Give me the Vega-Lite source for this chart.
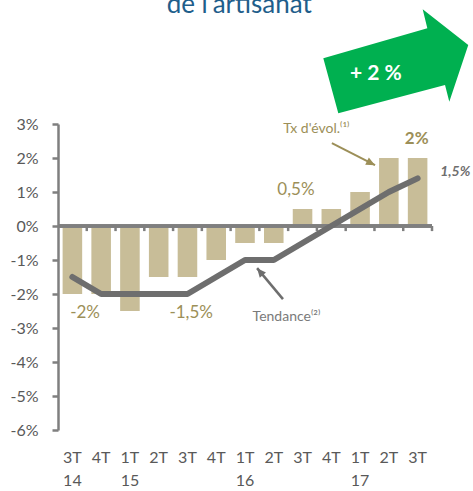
{
  "$schema": "https://vega.github.io/schema/vega-lite/v6.json",
  "width": 374,
  "height": 306,
  "autosize": {"type": "none"},
  "padding": {"left": 58, "top": 124, "right": 41, "bottom": 61},
  "config": {"font": "Lato", "view": {"stroke": null}},
  "layer": [
    {
      "data": {"values": [
        {"q": "3T14", "evol": -2, "tend": -1.5, "yr": "14"},
        {"q": "4T14", "evol": -2, "tend": -2, "yr": ""},
        {"q": "1T15", "evol": -2.5, "tend": -2, "yr": "15"},
        {"q": "2T15", "evol": -1.5, "tend": -2, "yr": ""},
        {"q": "3T15", "evol": -1.5, "tend": -2, "yr": ""},
        {"q": "4T15", "evol": -1, "tend": -1.5, "yr": ""},
        {"q": "1T16", "evol": -0.5, "tend": -1, "yr": "16"},
        {"q": "2T16", "evol": -0.5, "tend": -1, "yr": ""},
        {"q": "3T16", "evol": 0.5, "tend": -0.5, "yr": ""},
        {"q": "4T16", "evol": 0.5, "tend": 0, "yr": ""},
        {"q": "1T17", "evol": 1, "tend": 0.5, "yr": "17"},
        {"q": "2T17", "evol": 2, "tend": 1, "yr": ""},
        {"q": "3T17", "evol": 2, "tend": 1.4, "yr": ""}
      ]},
      "layer": [
        {
          "mark": {"type": "bar", "width": {"band": 0.68}, "color": "#c8bd98"},
          "encoding": {
            "x": {
              "field": "q", "type": "nominal", "sort": null,
              "scale": {"paddingInner": 0, "paddingOuter": 0},
              "axis": {
                "title": null, "labelAngle": 0, "domain": false, "ticks": false,
                "labelPadding": 19, "labelFontSize": 16, "labelColor": "#595959",
                "labelExpr": "slice(datum.value, 0, 2)"
              }
            },
            "y": {
              "field": "evol", "type": "quantitative",
              "scale": {"domain": [-6, 3], "nice": false},
              "axis": {
                "title": null, "values": [-6, -5, -4, -3, -2, -1, 0, 1, 2, 3],
                "labelExpr": "datum.value + '%'", "grid": false, "labelOverlap": false,
                "domainColor": "#7f7f7f", "domainWidth": 2.5,
                "tickColor": "#7f7f7f", "tickWidth": 2.5, "tickSize": 6,
                "labelFontSize": 16, "labelColor": "#595959", "labelPadding": 14
              }
            }
          }
        },
        {
          "mark": {"type": "rule", "color": "#7f7f7f", "strokeWidth": 2.5},
          "encoding": {
            "y": {
              "datum": 0, "type": "quantitative",
              "axis": {
                "title": null, "values": [-6, -5, -4, -3, -2, -1, 0, 1, 2, 3],
                "labelExpr": "datum.value + '%'", "grid": false, "labelOverlap": false,
                "domainColor": "#7f7f7f", "domainWidth": 2.5,
                "tickColor": "#7f7f7f", "tickWidth": 2.5, "tickSize": 6,
                "labelFontSize": 16, "labelColor": "#595959", "labelPadding": 14
              }
            }
          }
        },
        {
          "mark": {"type": "rule", "color": "#7f7f7f", "strokeWidth": 2.5},
          "encoding": {
            "x": {"field": "q", "type": "nominal", "sort": null, "bandPosition": 1},
            "y": {
              "datum": 0, "type": "quantitative",
              "axis": {
                "title": null, "values": [-6, -5, -4, -3, -2, -1, 0, 1, 2, 3],
                "labelExpr": "datum.value + '%'", "grid": false, "labelOverlap": false,
                "domainColor": "#7f7f7f", "domainWidth": 2.5,
                "tickColor": "#7f7f7f", "tickWidth": 2.5, "tickSize": 6,
                "labelFontSize": 16, "labelColor": "#595959", "labelPadding": 14
              }
            },
            "y2": {"datum": -0.15}
          }
        },
        {
          "mark": {"type": "line", "color": "#6e6e6e", "strokeWidth": 6, "strokeCap": "round", "strokeJoin": "round"},
          "encoding": {
            "x": {"field": "q", "type": "nominal", "sort": null},
            "y": {
              "field": "tend", "type": "quantitative",
              "axis": {
                "title": null, "values": [-6, -5, -4, -3, -2, -1, 0, 1, 2, 3],
                "labelExpr": "datum.value + '%'", "grid": false, "labelOverlap": false,
                "domainColor": "#7f7f7f", "domainWidth": 2.5,
                "tickColor": "#7f7f7f", "tickWidth": 2.5, "tickSize": 6,
                "labelFontSize": 16, "labelColor": "#595959", "labelPadding": 14
              }
            }
          }
        },
        {
          "mark": {"type": "text", "fontSize": 16, "color": "#595959"},
          "encoding": {
            "x": {"field": "q", "type": "nominal", "sort": null},
            "y": {
              "datum": -7.5, "type": "quantitative",
              "axis": {
                "title": null, "values": [-6, -5, -4, -3, -2, -1, 0, 1, 2, 3],
                "labelExpr": "datum.value + '%'", "grid": false, "labelOverlap": false,
                "domainColor": "#7f7f7f", "domainWidth": 2.5,
                "tickColor": "#7f7f7f", "tickWidth": 2.5, "tickSize": 6,
                "labelFontSize": 16, "labelColor": "#595959", "labelPadding": 14
              }
            },
            "text": {"field": "yr"}
          }
        }
      ]
    },
    {
      "data": {"values": [{"ax": 11.714, "ay": 4.824}]},
      "mark": {"type": "point", "shape": "M-0.956,-0.049L0.431,-0.449L0.369,-0.703L0.977,-0.227L0.724,0.529L0.667,0.307L-0.756,0.684Z", "size": 22500, "filled": true, "fill": "#00b050", "opacity": 1, "strokeWidth": 0},
      "encoding": {
        "x": {"field": "ax", "type": "quantitative", "scale": {"domain": [0, 13], "nice": false, "zero": false}, "axis": null},
        "y": {"field": "ay", "type": "quantitative", "axis": null}
      }
    },
    {
      "data": {"values": [{"ax": 11.05, "ay": 4.47, "t": "+ 2 %"}]},
      "mark": {"type": "text", "color": "#ffffff", "fontWeight": "bold", "fontSize": 21},
      "encoding": {
        "x": {"field": "ax", "type": "quantitative", "scale": {"domain": [0, 13], "nice": false, "zero": false}, "axis": null},
        "y": {"field": "ay", "type": "quantitative", "axis": null},
        "text": {"field": "t"}
      }
    },
    {
      "data": {"values": [{"ax": 6.3, "ay": 6.265, "t": "de l'artisanat"}]},
      "mark": {"type": "text", "color": "#1f5e8b", "fontSize": 26, "baseline": "alphabetic"},
      "encoding": {
        "x": {"field": "ax", "type": "quantitative", "scale": {"domain": [0, 13], "nice": false, "zero": false}, "axis": null},
        "y": {"field": "ay", "type": "quantitative", "axis": null},
        "text": {"field": "t"}
      }
    },
    {
      "data": {"values": [
        {"ax": 0.94, "ay": -2.56, "t": "-2%"},
        {"ax": 4.63, "ay": -2.56, "t": "-1,5%"},
        {"ax": 8.27, "ay": 1.06, "t": "0,5%"}
      ]},
      "mark": {"type": "text", "color": "#9c8f58", "fontSize": 17},
      "encoding": {
        "x": {"field": "ax", "type": "quantitative", "scale": {"domain": [0, 13], "nice": false, "zero": false}, "axis": null},
        "y": {"field": "ay", "type": "quantitative", "axis": null},
        "text": {"field": "t"}
      }
    },
    {
      "data": {"values": [{"ax": 12.47, "ay": 2.56, "t": "2%"}]},
      "mark": {"type": "text", "color": "#9c8f58", "fontSize": 17, "fontWeight": "bold"},
      "encoding": {
        "x": {"field": "ax", "type": "quantitative", "scale": {"domain": [0, 13], "nice": false, "zero": false}, "axis": null},
        "y": {"field": "ay", "type": "quantitative", "axis": null},
        "text": {"field": "t"}
      }
    },
    {
      "data": {"values": [{"ax": 8.98, "ay": 2.85, "t": "Tx d'évol.⁽¹⁾"}]},
      "mark": {"type": "text", "color": "#9c8f58", "fontSize": 14},
      "encoding": {
        "x": {"field": "ax", "type": "quantitative", "scale": {"domain": [0, 13], "nice": false, "zero": false}, "axis": null},
        "y": {"field": "ay", "type": "quantitative", "axis": null},
        "text": {"field": "t"}
      }
    },
    {
      "data": {"values": [{"ax": 13.81, "ay": 1.58, "t": "1,5%"}]},
      "mark": {"type": "text", "color": "#6e6e6e", "fontSize": 14, "fontWeight": "bold", "fontStyle": "italic"},
      "encoding": {
        "x": {"field": "ax", "type": "quantitative", "scale": {"domain": [0, 13], "nice": false, "zero": false}, "axis": null},
        "y": {"field": "ay", "type": "quantitative", "axis": null},
        "text": {"field": "t"}
      }
    },
    {
      "data": {"values": [{"ax": 7.94, "ay": -2.69, "t": "Tendance⁽²⁾"}]},
      "mark": {"type": "text", "color": "#7a7a7a", "fontSize": 14},
      "encoding": {
        "x": {"field": "ax", "type": "quantitative", "scale": {"domain": [0, 13], "nice": false, "zero": false}, "axis": null},
        "y": {"field": "ay", "type": "quantitative", "axis": null},
        "text": {"field": "t"}
      }
    },
    {
      "data": {"values": [{"ax": 9.52, "ay": 2.44, "ax2": 11.02, "ay2": 1.79}]},
      "mark": {"type": "rule", "color": "#9c8f58", "strokeWidth": 2},
      "encoding": {
        "x": {"field": "ax", "type": "quantitative", "scale": {"domain": [0, 13], "nice": false, "zero": false}, "axis": null},
        "y": {"field": "ay", "type": "quantitative", "axis": null},
        "x2": {"field": "ax2"},
        "y2": {"field": "ay2"}
      }
    },
    {
      "data": {"values": [{"ax": 11.02, "ay": 1.79}]},
      "mark": {"type": "point", "shape": "M0,0L-0.45,1L0.45,1Z", "size": 324, "angle": 117, "filled": true, "fill": "#9c8f58", "opacity": 1, "strokeWidth": 0},
      "encoding": {
        "x": {"field": "ax", "type": "quantitative", "scale": {"domain": [0, 13], "nice": false, "zero": false}, "axis": null},
        "y": {"field": "ay", "type": "quantitative", "axis": null}
      }
    },
    {
      "data": {"values": [{"ax": 7.82, "ay": -2.15, "ax2": 6.92, "ay2": -1.24}]},
      "mark": {"type": "rule", "color": "#6e6e6e", "strokeWidth": 2.5},
      "encoding": {
        "x": {"field": "ax", "type": "quantitative", "scale": {"domain": [0, 13], "nice": false, "zero": false}, "axis": null},
        "y": {"field": "ay", "type": "quantitative", "axis": null},
        "x2": {"field": "ax2"},
        "y2": {"field": "ay2"}
      }
    },
    {
      "data": {"values": [{"ax": 6.92, "ay": -1.24}]},
      "mark": {"type": "point", "shape": "M0,0L-0.45,1L0.45,1Z", "size": 324, "angle": 320, "filled": true, "fill": "#6e6e6e", "opacity": 1, "strokeWidth": 0},
      "encoding": {
        "x": {"field": "ax", "type": "quantitative", "scale": {"domain": [0, 13], "nice": false, "zero": false}, "axis": null},
        "y": {"field": "ay", "type": "quantitative", "axis": null}
      }
    }
  ],
  "resolve": {"scale": {"x": "independent"}, "axis": {"y": "independent"}}
}
